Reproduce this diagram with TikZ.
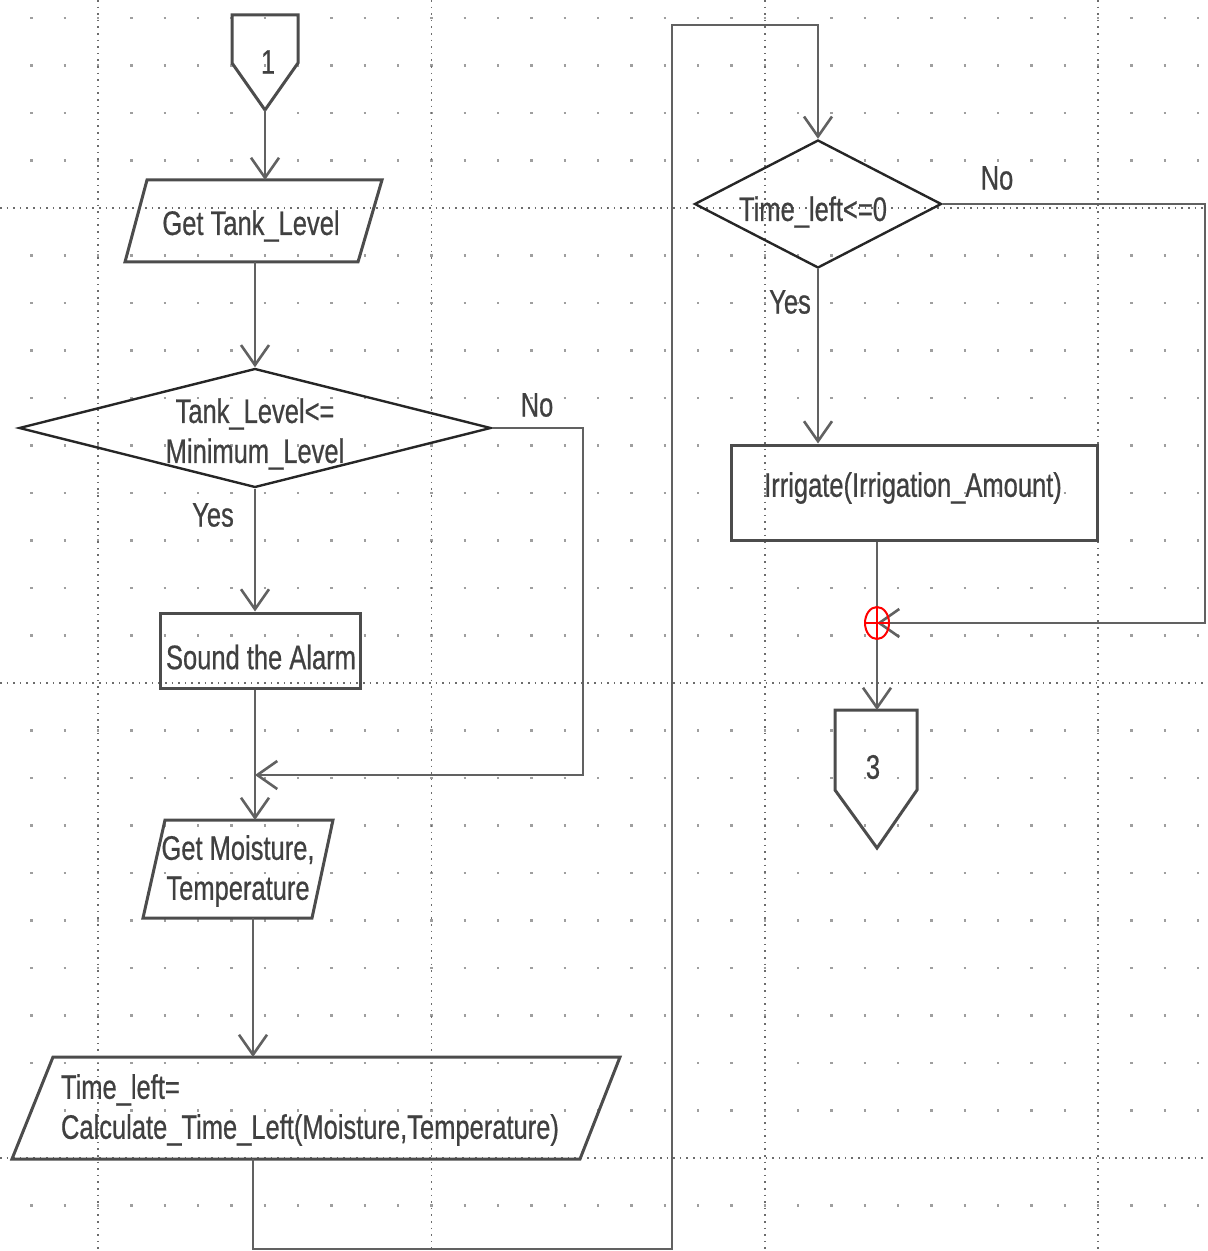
\documentclass[tikz,border=0pt]{standalone}
\usepackage{fontspec}
\setmainfont{Liberation Sans}[FakeStretch=0.75,FakeBold=0.6]
\usetikzlibrary{arrows.meta,shapes.geometric}

\begin{document}
\begin{tikzpicture}[x=.5pt,y=-.5pt,line width=1pt,
  dotrow/.style={gray!75,line width=1.1pt,dash pattern=on 1.1pt off 15.567pt},
  majorline/.style={gray!85!black,line width=.8pt,dash pattern=on .8pt off 2.5pt},
  iobox/.style={draw=black!70,line width=1.5pt},
  decision/.style={diamond,draw=black!85,line width=1.2pt,inner sep=0pt},
  process/.style={rectangle,draw=black!70,line width=1.5pt,inner sep=0pt},
  txt/.style={inner sep=0pt,text=black!75,font=\fontsize{17}{20}\selectfont},
  flow/.style={draw=black!62,line width=1.3pt,-{Straight Barb[length=10pt,width=14pt]}}]
\path[use as bounding box] (0,0) rectangle (1208,1251);
% dot grid
\draw[dotrow] (-3,18) -- (1210,18);
\draw[dotrow] (-3,65.5) -- (1210,65.5);
\draw[dotrow] (-3,113) -- (1210,113);
\draw[dotrow] (-3,160.5) -- (1210,160.5);
\draw[dotrow] (-3,255.5) -- (1210,255.5);
\draw[dotrow] (-3,303) -- (1210,303);
\draw[dotrow] (-3,350.5) -- (1210,350.5);
\draw[dotrow] (-3,398) -- (1210,398);
\draw[dotrow] (-3,445.5) -- (1210,445.5);
\draw[dotrow] (-3,493) -- (1210,493);
\draw[dotrow] (-3,540.5) -- (1210,540.5);
\draw[dotrow] (-3,588) -- (1210,588);
\draw[dotrow] (-3,635.5) -- (1210,635.5);
\draw[dotrow] (-3,730.5) -- (1210,730.5);
\draw[dotrow] (-3,778) -- (1210,778);
\draw[dotrow] (-3,825.5) -- (1210,825.5);
\draw[dotrow] (-3,873) -- (1210,873);
\draw[dotrow] (-3,920.5) -- (1210,920.5);
\draw[dotrow] (-3,968) -- (1210,968);
\draw[dotrow] (-3,1015.5) -- (1210,1015.5);
\draw[dotrow] (-3,1063) -- (1210,1063);
\draw[dotrow] (-3,1110.5) -- (1210,1110.5);
\draw[dotrow] (-3,1205.5) -- (1210,1205.5);
\draw[majorline] (98,0) -- (98,1251);
\draw[majorline] (431.3,0) -- (431.3,1251);
\draw[majorline] (764.7,0) -- (764.7,1251);
\draw[majorline] (1098,0) -- (1098,1251);
\draw[majorline] (0,208) -- (1208,208);
\draw[majorline] (0,683) -- (1208,683);
\draw[majorline] (0,1158) -- (1208,1158);
% off-page connector 1
\draw[iobox] (232,15) -- (298,15) -- (298,63) -- (265,110) -- (232,63) -- cycle;
\node[txt] (con1) at (268,62) {1};
\coordinate (con1out) at (265,110);
% get tank level
\draw[iobox] (147,180) -- (382,180) -- (358,262) -- (125,262) -- cycle;
\node[txt] (tank) at (251,226) {Get Tank\_Level};
\coordinate (tankin) at (265,180);
\coordinate (tankout) at (255,262);
% tank level check
\node[decision,aspect=3.97,minimum width=236pt,minimum height=59.5pt] (lvl) at (255,428) {};
\node[txt,align=center] (lvltext) at (255,434) {Tank\_Level<=\\Minimum\_Level};
\node[txt] (no1) at (537,405) {No};
\node[txt] (yes1) at (213,515) {Yes};
\coordinate (bend1) at (583,775);
% alarm
\node[process,minimum width=100pt,minimum height=37.5pt] (alarm) at (260,650.5) {};
\node[txt] (alarmtext) at (261,657) {Sound the Alarm};
\coordinate (join1) at (255,775);
% get moisture, temperature
\draw[iobox] (165,820) -- (333,820) -- (312,918) -- (143,918) -- cycle;
\node[txt,align=center] (moist) at (238,871) {Get Moisture,\\Temperature};
\coordinate (moistin) at (255,820);
\coordinate (moistout) at (253,918);
% time left
\draw[iobox] (53,1057) -- (620,1057) -- (580,1159) -- (12,1159) -- cycle;
\node[txt,align=left,anchor=west] (calc) at (60,1110) {Time\_left=\\Calculate\_Time\_Left(Moisture,Temperature)};
\coordinate (calcin) at (253,1057);
\coordinate (calcout) at (253,1159);
\coordinate (bend2) at (672,1249);
\coordinate (bend3) at (818,25);
% time left check
\node[decision,aspect=1.93,minimum width=123.5pt,minimum height=64pt] (tl) at (818,204) {};
\node[txt] (tltext) at (813,212) {Time\_left<=0};
\node[txt] (no2) at (997,178) {No};
\node[txt] (yes2) at (790,302) {Yes};
\coordinate (bend4) at (1205,623);
% irrigate
\node[process,minimum width=183pt,minimum height=47.5pt] (irr) at (914,492.5) {};
\node[txt] (irrtext) at (913,488) {Irrigate(Irrigation\_Amount)};
\coordinate (join2) at (877,623);
% off-page connector 3
\draw[iobox] (835,710) -- (917,710) -- (917,790) -- (877,848) -- (835,790) -- cycle;
\node[txt] (con3) at (873,767) {3};
\coordinate (con3in) at (877,710);
% flow lines
\draw[flow] (con1out) -- (tankin);
\draw[flow] (tankout) -- (lvl.north);
\draw[flow] (lvl.south) -- (alarm.north -| lvl.south);
\draw[flow] (lvl.east) -| (bend1) -- (join1);
\draw[flow] (alarm.south -| join1) -- (moistin);
\draw[flow] (moistout) -- (calcin);
\draw[flow] (calcout) |- (bend2) |- (bend3) -- (tl.north);
\draw[flow] (tl.south) -- (irr.north -| tl.south);
\draw[flow] (tl.east) -| (bend4) -- (join2);
\draw[flow] (irr.south -| join2) -- (con3in);
% junction mark
\draw[red,line width=1pt] (join2) ellipse [x radius=6pt,y radius=8pt];
\draw[red,line width=1pt] ([xshift=-6pt]join2) -- ([xshift=6pt]join2);
\draw[red,line width=1pt] ([yshift=-8pt]join2) -- ([yshift=8pt]join2);
\end{tikzpicture}
\end{document}
